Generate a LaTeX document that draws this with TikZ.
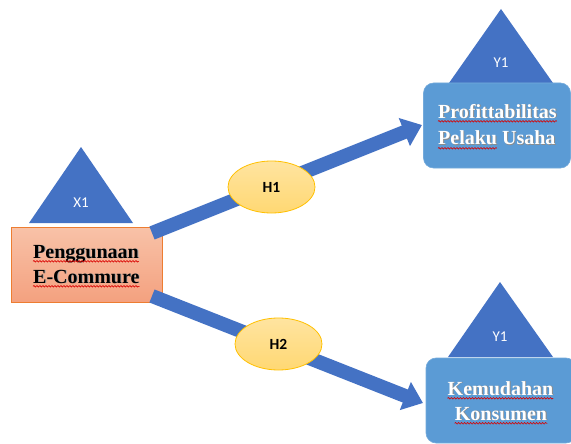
\documentclass[tikz,border=0pt]{standalone}
\usepackage{fontspec}
\setmainfont{Liberation Serif}
\newfontfamily\calfont{Carlito}
\usetikzlibrary{arrows.meta,shapes.geometric,decorations.pathmorphing}
\definecolor{triblue}{HTML}{4472C4}
\definecolor{boxblue}{HTML}{5B9BD5}
\definecolor{arrblue}{HTML}{4472C4}
\definecolor{otop}{HTML}{F8C2A8}
\definecolor{obot}{HTML}{F4A17F}
\definecolor{oedge}{HTML}{ED7D31}
\definecolor{ytop}{HTML}{FFE4A0}
\definecolor{ybot}{HTML}{FFD873}
\definecolor{yedge}{HTML}{FFC000}
\newcommand\shtext[2]{\rlap{\kern0.9pt\raisebox{-0.9pt}{\textcolor{#1}{#2}}}#2}
\tikzset{
  tri/.style={fill=triblue},
  trilabel/.style={text=white,font=\calfont\fontsize{15pt}{17pt}\selectfont,inner sep=0pt},
  obox/.style={rectangle,draw=oedge,line width=0.8pt,top color=otop,bottom color=obot,inner sep=0pt},
  bbox/.style={rectangle,rounded corners=10pt,fill=boxblue,draw=boxblue!85!white,line width=0.6pt,inner sep=0pt},
  btext/.style={font=\bfseries\fontsize{20pt}{25pt}\selectfont,inner sep=0pt},
  hyp/.style={ellipse,draw=yedge,line width=0.8pt,top color=ytop,bottom color=ybot,minimum width=87pt,minimum height=52pt,inner sep=0pt,font=\calfont\bfseries\fontsize{15.5pt}{17pt}\selectfont},
  bigarrow/.style={draw=arrblue,line width=14pt,-{Triangle[width=29pt,length=19pt]}},
  wavy/.style={draw=red!85!black,line width=0.6pt,decorate,decoration={snake,segment length=3pt,amplitude=0.8pt}}
}
\begin{document}
\begin{tikzpicture}[x=1pt,y=-1pt]
\useasboundingbox (0,0) rectangle (571,444);
% triangles
\fill[tri] (81,147) -- (133,223) -- (29,223) -- cycle;
\node[trilabel] (x1) at (81,203) {X1};
\fill[tri] (501,9) -- (553,83) -- (449,83) -- cycle;
\node[trilabel] (y1a) at (501,63) {Y1};
\fill[tri] (500,282) -- (553,357) -- (448,357) -- cycle;
\node[trilabel] (y1b) at (500,337) {Y1};
% boxes
\node[obox,minimum width=151pt,minimum height=75pt] (src) at (86.5,264.5) {};
\node[bbox,minimum width=147pt,minimum height=85pt] (tgt1) at (497,125.5) {};
\node[bbox,minimum width=150pt,minimum height=85pt] (tgt2) at (501,400.5) {};
% box texts
\node[btext,anchor=base west] (src1) at (33,258) {\shtext{black!35}{Penggunaan}};
\node[btext,anchor=base west] (src2) at (33,283) {\shtext{black!35}{E-Commure}};
\node[btext,text=white,anchor=base west] (t1a) at (438,118) {\shtext{black!45}{Profittabilitas}};
\node[btext,text=white,anchor=base west] (t1b) at (438,145) {\shtext{black!45}{Pelaku Usaha}};
\node[btext,text=white,anchor=base] (t2a) at (500.5,395) {\shtext{black!45}{Kemudahan}};
\node[btext,text=white,anchor=base] (t2b) at (501,420) {\shtext{black!45}{Konsumen}};
\foreach \n in {src1,src2,t1a,t2a,t2b}
  \draw[wavy] ([yshift=-3.3pt]\n.base west) -- ([yshift=-3.3pt]\n.base east);
\draw[wavy] ([yshift=-3.3pt]t1b.base west) -- ([xshift=58.9pt,yshift=-3.3pt]t1b.base west);
% arrows
\coordinate (s1) at (152,233);
\coordinate (e1) at (422,125);
\coordinate (s2) at (152,296);
\coordinate (e2) at (423,403);
\draw[bigarrow] (s1) -- (e1);
\draw[bigarrow] (s2) -- (e2);
% hypotheses
\node[hyp] (h1) at (271.5,187) {H1};
\node[hyp] (h2) at (278.5,344) {H2};
\end{tikzpicture}
\end{document}
